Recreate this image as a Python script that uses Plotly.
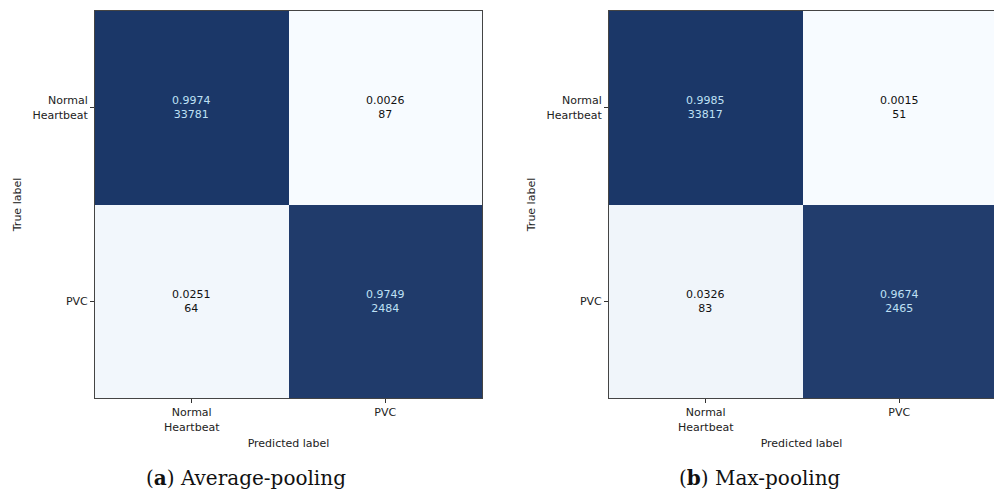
import plotly.graph_objects as go

# Class names shared by both confusion matrices
classes = ["Normal<br>Heartbeat", "PVC"]

# Average-pooling model: row-normalised rates and raw counts (rows = true label)
avg_rates = [[0.9974, 0.0026], [0.0251, 0.9749]]
avg_counts = [[33781, 87], [64, 2484]]

# Max-pooling model
max_rates = [[0.9985, 0.0015], [0.0326, 0.9674]]
max_counts = [[33817, 51], [83, 2465]]

captions = ["(<b>a</b>) Average-pooling", "(<b>b</b>) Max-pooling"]

W, H = 994, 492
LIGHT, DARK = "#f7fbff", "#1b3768"
TEXT_ON_DARK, TEXT_ON_LIGHT = "#bfe0f5", "#111111"
tick_font = dict(family="DejaVu Sans", size=11, color="#222222")

# panel placement in pixels: (left, right, top, bottom, caption centre)
panels = [(95, 482, 11, 398, 246), (609, 994, 11, 398, 760)]

fig = go.Figure()
annotations = []
layout = {}

for i, (rates, counts, cap, (x0, x1, y0, y1, cx)) in enumerate(
    zip([avg_rates, max_rates], [avg_counts, max_counts], captions, panels)
):
    n = i + 1
    xa = "x" if n == 1 else f"x{n}"
    ya = "y" if n == 1 else f"y{n}"
    flat = [v for row in rates for v in row]
    zmin, zmax = min(flat), max(flat)
    fig.add_trace(
        go.Heatmap(
            z=rates,
            x=[0, 1],
            y=[0, 1],
            zmin=zmin,
            zmax=zmax,
            colorscale=[[0, LIGHT], [1, DARK]],
            showscale=False,
            hoverinfo="skip",
            xaxis=xa,
            yaxis=ya,
        )
    )
    # cell labels: rate above count
    mid = (zmin + zmax) / 2
    for r in range(2):
        for c in range(2):
            annotations.append(
                dict(
                    x=c, y=r, xref=xa, yref=ya,
                    text=f"{rates[r][c]:.4f}<br>{counts[r][c]}",
                    showarrow=False,
                    font=dict(family="DejaVu Sans", size=11,
                              color=TEXT_ON_DARK if rates[r][c] > mid else TEXT_ON_LIGHT),
                )
            )
    # the right-hand panel runs to the page edge
    full_w = 387.0
    vis = (x1 - x0) / full_w
    xr = [-0.5, -0.5 + 2 * vis]
    layout[f"xaxis{'' if n == 1 else n}"] = dict(
        domain=[x0 / W, x1 / W], range=xr, anchor=ya,
        tickvals=[0, 1], ticktext=classes, tickfont=tick_font,
        ticks="outside", ticklen=4, tickcolor="#333",
        showline=True, linecolor="#444", linewidth=1, mirror=True,
        showgrid=False, zeroline=False,
        title=dict(text="Predicted label", font=tick_font, standoff=6),
    )
    layout[f"yaxis{'' if n == 1 else n}"] = dict(
        domain=[1 - y1 / H, 1 - y0 / H], range=[1.5, -0.5], anchor=xa,
        tickvals=[0, 1], ticktext=classes, tickfont=tick_font,
        ticks="outside", ticklen=4, tickcolor="#333",
        showline=True, linecolor="#444", linewidth=1, mirror=(n == 1),
        showgrid=False, zeroline=False,
        title=dict(text="True label", font=tick_font, standoff=8),
    )
    annotations.append(
        dict(
            x=cx / W, y=1 - 478 / H, xref="paper", yref="paper",
            text=cap, showarrow=False, xanchor="center", yanchor="middle",
            font=dict(family="DejaVu Serif", size=20, color="#111111"),
        )
    )

fig.update_layout(
    width=W, height=H,
    margin=dict(l=0, r=0, t=0, b=0),
    paper_bgcolor="white", plot_bgcolor="white",
    annotations=annotations,
    **layout,
)

fig.write_html("out.html")
